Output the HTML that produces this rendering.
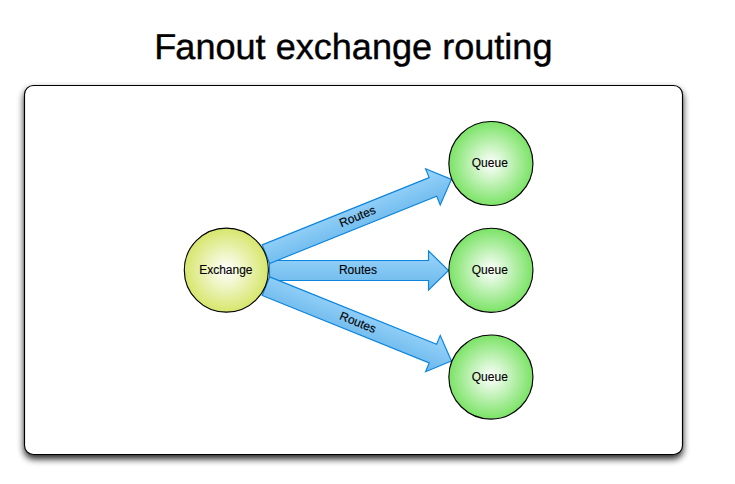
<!DOCTYPE html>
<html><head><meta charset="utf-8"><title>Fanout exchange routing</title>
<style>
html,body{margin:0;padding:0;background:#fff;}
body{width:735px;height:484px;overflow:hidden;}
svg{display:block;}
.t{font-family:"Liberation Sans",Arial,Helvetica,sans-serif;font-size:12px;fill:#000;stroke:#000;stroke-width:0.12px;}
.h{font-family:"Liberation Sans",Arial,Helvetica,sans-serif;font-size:36.1px;fill:#000;stroke:#000;stroke-width:0.4px;text-rendering:geometricPrecision;}
</style></head><body>
<svg width="735" height="484" viewBox="0 0 735 484">
<defs>
<filter id="sh" x="-5%" y="-8%" width="110%" height="118%">
<feGaussianBlur in="SourceAlpha" stdDeviation="3.6"/>
<feOffset dx="0" dy="3.7" result="b"/>
<feComponentTransfer><feFuncA type="linear" slope="0.87"/></feComponentTransfer>
<feMerge><feMergeNode/><feMergeNode in="SourceGraphic"/></feMerge>
</filter>
<linearGradient id="ga" gradientUnits="userSpaceOnUse" x1="0" y1="-20" x2="0" y2="20">
<stop offset="0" stop-color="#9cd6fc"/><stop offset="1" stop-color="#68b6ea"/>
</linearGradient>
<radialGradient id="gg" cx="0.5" cy="0.5" r="0.5">
<stop offset="0" stop-color="#ffffff"/><stop offset="1" stop-color="#7be366"/>
</radialGradient>
<radialGradient id="gy" cx="0.5" cy="0.5" r="0.5">
<stop offset="0" stop-color="#ffffff"/><stop offset="1" stop-color="#d6e66c"/>
</radialGradient>
</defs>
<rect width="735" height="484" fill="#fff"/>
<text x="352.4" y="59.1" text-anchor="middle" class="h"><tspan dx="1">F</tspan><tspan dx="-1">anout exchange routing</tspan></text>
<rect x="24.5" y="85.5" width="658" height="369" rx="9" ry="9" fill="#fff" stroke="#000" stroke-width="1.15" filter="url(#sh)"/>
<g transform="translate(269.50,270.50) rotate(0.000)">
<polygon points="0.00,-10.00 159.00,-10.00 159.00,-19.60 179.00,0.00 159.00,19.60 159.00,10.00 0.00,10.00" fill="url(#ga)" stroke="#0a84dd" stroke-width="1.15" stroke-linejoin="miter"/>
<text x="88.40" y="3.1" text-anchor="middle" class="t">Routes</text>
</g>
<g transform="translate(265.95,254.18) rotate(-21.956)">
<polygon points="0.00,-10.00 179.99,-10.00 179.99,-19.60 199.99,0.00 179.99,19.60 179.99,10.00 0.00,10.00" fill="url(#ga)" stroke="#0a84dd" stroke-width="1.15" stroke-linejoin="miter"/>
<text x="98.89" y="3.1" text-anchor="middle" class="t">Routes</text>
</g>
<g transform="translate(265.94,286.14) rotate(21.993)">
<polygon points="0.00,-10.00 180.06,-10.00 180.06,-19.60 200.06,0.00 180.06,19.60 180.06,10.00 0.00,10.00" fill="url(#ga)" stroke="#0a84dd" stroke-width="1.15" stroke-linejoin="miter"/>
<text x="98.93" y="3.1" text-anchor="middle" class="t">Routes</text>
</g>
<circle cx="226.35" cy="270.15" r="42.05" fill="url(#gy)" stroke="#000" stroke-width="1.15"/>
<text x="225.85" y="274.25" text-anchor="middle" class="t">Exchange</text>
<circle cx="490.9" cy="163.5" r="42.05" fill="url(#gg)" stroke="#000" stroke-width="1.15"/>
<text x="489.80" y="166.7" text-anchor="middle" class="t">Queue</text>
<circle cx="490.9" cy="270.25" r="42.05" fill="url(#gg)" stroke="#000" stroke-width="1.15"/>
<text x="489.80" y="274.1" text-anchor="middle" class="t">Queue</text>
<circle cx="490.9" cy="377.0" r="42.05" fill="url(#gg)" stroke="#000" stroke-width="1.15"/>
<text x="489.80" y="380.6" text-anchor="middle" class="t">Queue</text>
</svg>
</body></html>
